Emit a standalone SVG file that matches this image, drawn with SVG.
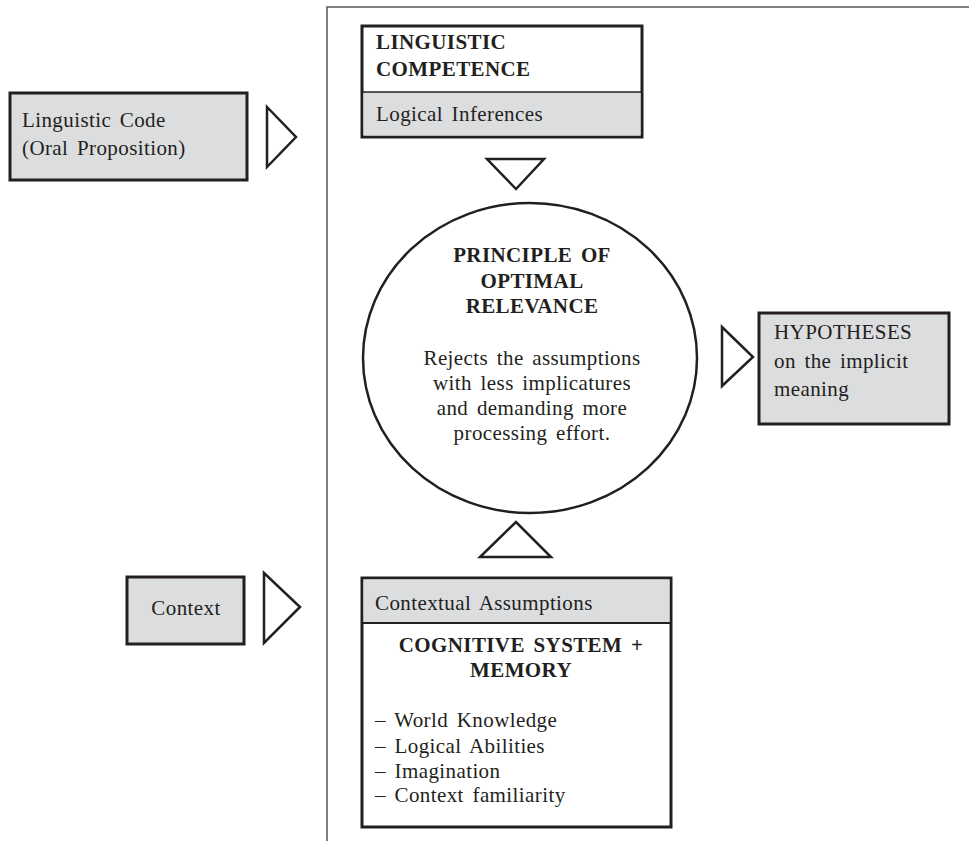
<svg xmlns="http://www.w3.org/2000/svg" width="969" height="841" viewBox="0 0 969 841">
<style>
text{font-family:"Liberation Serif","Times New Roman",serif;font-size:21px;fill:#231f20;letter-spacing:0.4px;word-spacing:3px}
.b{font-weight:bold}
.m{text-anchor:middle}
.box{stroke:#231f20;stroke-width:3}
.g{fill:#dcdddf}
.w{fill:#fff}
.tri{fill:#fff;stroke:#231f20;stroke-width:2.5;stroke-linejoin:miter}
.frame{fill:none;stroke:#555;stroke-width:1.5}
</style>
<g id="frame"><path class="frame" d="M327,841 V7 H969"/></g>
<g id="linguistic-code">
<rect class="box g" x="10" y="93" width="237" height="87"/>
<text x="22" y="127">Linguistic Code</text>
<text x="22" y="155">(Oral Proposition)</text>
</g>
<g id="linguistic-competence">
<rect class="box w" x="362" y="26" width="280" height="111"/>
<rect class="g" x="363.5" y="92" width="277" height="43.5"/>
<line x1="362" y1="92" x2="642" y2="92" stroke="#231f20" stroke-width="1.5"/>
<text class="b" x="376" y="49">LINGUISTIC</text>
<text class="b" x="376" y="76">COMPETENCE</text>
<text x="376" y="121">Logical Inferences</text>
</g>
<g id="principle">
<ellipse cx="530" cy="358" rx="167" ry="155" fill="#fff" stroke="#231f20" stroke-width="2.5"/>
<text class="b m" x="532" y="262">PRINCIPLE OF</text>
<text class="b m" x="532" y="288">OPTIMAL</text>
<text class="b m" x="532" y="313">RELEVANCE</text>
<text class="m" x="532" y="365">Rejects the assumptions</text>
<text class="m" x="532" y="390">with less implicatures</text>
<text class="m" x="532" y="415">and demanding more</text>
<text class="m" x="532" y="440">processing effort.</text>
</g>
<g id="hypotheses">
<rect class="box g" x="759" y="313" width="190" height="111"/>
<text x="774" y="339">HYPOTHESES</text>
<text x="774" y="368">on the implicit</text>
<text x="774" y="396">meaning</text>
</g>
<g id="context">
<rect class="box g" x="127" y="577" width="117" height="67"/>
<text class="m" x="186" y="615">Context</text>
</g>
<g id="cognitive-system">
<rect class="box w" x="362" y="578" width="309" height="249"/>
<rect class="g" x="363.5" y="579.5" width="306" height="43.5"/>
<line x1="362" y1="623" x2="671" y2="623" stroke="#231f20" stroke-width="2"/>
<text x="375" y="610">Contextual Assumptions</text>
<text class="b m" x="521" y="652">COGNITIVE SYSTEM +</text>
<text class="b m" x="521" y="677">MEMORY</text>
<text x="375" y="727">– World Knowledge</text>
<text x="375" y="753">– Logical Abilities</text>
<text x="375" y="778">– Imagination</text>
<text x="375" y="802">– Context familiarity</text>
</g>
<g id="connectors">
<polygon class="tri" points="267,107 267,167 296,137"/>
<polygon class="tri" points="487,159 544,159 516,189"/>
<polygon class="tri" points="722,327 722,386 753,357"/>
<polygon class="tri" points="480,557 551,557 516,522"/>
<polygon class="tri" points="264,573 264,643 300,607"/>
</g>
</svg>
